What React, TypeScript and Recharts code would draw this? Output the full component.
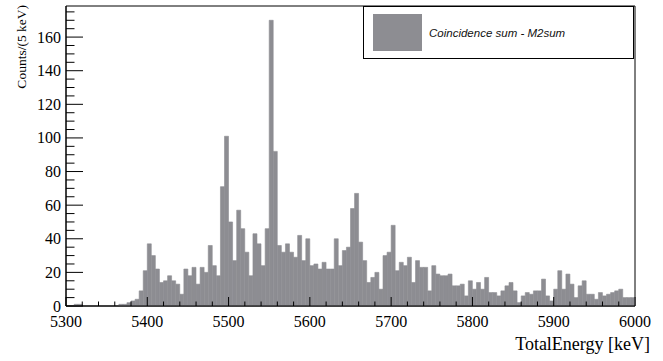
import { BarChart, Bar, XAxis, YAxis, ReferenceArea, Legend } from 'recharts';

// Coincidence sum spectrum, 5 keV bins starting at 5300 keV
const binStart = 5300;
const binWidth = 5;
const counts = [
  0, 0, 1, 1, 0, 0, 0, 0, 0, 0,
  0, 0, 0, 1, 1, 2, 3, 4, 9, 21,
  37, 30, 22, 14, 15, 18, 15, 13, 7, 22,
  18, 23, 13, 23, 20, 36, 24, 18, 71, 101,
  50, 27, 57, 46, 32, 18, 43, 37, 24, 46,
  170, 92, 36, 32, 37, 32, 29, 42, 27, 40,
  24, 25, 22, 26, 22, 22, 40, 24, 33, 35,
  58, 67, 38, 27, 14, 17, 20, 10, 30, 32,
  48, 21, 26, 24, 29, 14, 27, 23, 23, 9,
  24, 19, 18, 18, 19, 12, 12, 13, 6, 15,
  10, 14, 10, 17, 8, 8, 6, 9, 12, 14,
  9, 2, 6, 8, 7, 9, 9, 16, 6, 3,
  10, 21, 10, 19, 13, 5, 12, 15, 7, 7,
  4, 8, 6, 7, 8, 9, 10, 5, 5, 5,
];

const xRange = [5300, 6000];
const xMajorStep = 100;
const xMinorStep = 20;
const yMax = 178.5;
const yMajorStep = 20;
const yMinorStep = 5;

const seriesName = 'Coincidence sum - M2sum';
const xTitle = 'TotalEnergy [keV]';
const yTitle = 'Counts/(5 keV)';

const barColor = '#8d8d92';
const serif = "'Liberation Serif', serif";
const sans = "'Liberation Sans', Arial, sans-serif";

const data = counts.map((c, i) => ({
  bin: binStart + i * binWidth,
  e: binStart + i * binWidth + binWidth / 2,
  counts: c,
}));

const xTicks: number[] = [];
for (let v = xRange[0]; v <= xRange[1]; v += xMinorStep) xTicks.push(v);
const yTicks: number[] = [];
for (let v = 0; v <= yMax; v += yMinorStep) yTicks.push(v);

// ticks point into the frame, long ones carry the label
const XTick = ({ x, y, payload }: any) => {
  const v = payload.value;
  const major = v % xMajorStep === 0;
  return (
    <g>
      <line x1={x} x2={x} y1={y} y2={y - (major ? 9 : 4.5)} stroke="#000" />
      {major && (
        <text x={x} y={y + 21} textAnchor="middle" style={{ fontFamily: serif, fontSize: 16 }} fill="#000">
          {v}
        </text>
      )}
    </g>
  );
};

const YTick = ({ x, y, payload }: any) => {
  const v = payload.value;
  const major = v % yMajorStep === 0;
  return (
    <g>
      <line x1={x} x2={x + (major ? 17 : 8.5)} y1={y} y2={y} stroke="#000" />
      {major && (
        <text x={x - 5} y={y + 5.5} textAnchor="end" style={{ fontFamily: serif, fontSize: 16 }} fill="#000">
          {v}
        </text>
      )}
    </g>
  );
};

const LegendBox = () => (
  <div
    style={{
      width: 271,
      height: 53,
      boxSizing: 'border-box',
      border: '1px solid #000',
      background: '#fff',
      display: 'flex',
      alignItems: 'center',
    }}
  >
    <div style={{ width: 49, height: 37, background: barColor, marginLeft: 9 }} />
    <span
      style={{
        marginLeft: 7,
        fontFamily: sans,
        fontStyle: 'italic',
        fontSize: 11.5,
        color: '#111',
      }}
    >
      {seriesName}
    </span>
  </div>
);

const App = () => {
  return (
    <div style={{ position: 'absolute', left: 0, top: 0, width: 663, height: 361, background: '#fff' }}>
      <BarChart
        width={663}
        height={361}
        data={data}
        margin={{ top: 6, right: 28, left: 0, bottom: 25 }}
        barCategoryGap={0}
        barGap={0}
      >
        <XAxis xAxisId="cat" dataKey="bin" hide height={0} />
        <XAxis
          xAxisId="e"
          dataKey="e"
          type="number"
          domain={xRange}
          ticks={xTicks}
          interval={0}
          height={30}
          tickSize={0}
          tickMargin={0}
          tickLine={false}
          axisLine={{ stroke: '#000' }}
          tick={<XTick />}
          label={({ viewBox }: any) => (
            <text
              x={650}
              y={viewBox.y + 44}
              textAnchor="end"
              style={{ fontFamily: serif, fontSize: 18 }}
              fill="#000"
            >
              {xTitle}
            </text>
          )}
        />
        <YAxis
          type="number"
          domain={[0, yMax]}
          ticks={yTicks}
          interval={0}
          width={66}
          tickSize={0}
          tickMargin={0}
          tickLine={false}
          axisLine={{ stroke: '#000' }}
          tick={<YTick />}
          label={({ viewBox }: any) => (
            <text
              x={26}
              y={viewBox.y - 1}
              textAnchor="end"
              style={{ fontFamily: serif, fontSize: 13.5 }}
              fill="#000"
              transform={`rotate(-90 26 ${viewBox.y - 1})`}
            >
              {yTitle}
            </text>
          )}
        />
        <Bar
          xAxisId="cat"
          dataKey="counts"
          name={seriesName}
          fill={barColor}
          stroke={barColor}
          strokeWidth={0.6}
          isAnimationActive={false}
        />
        <ReferenceArea
          xAxisId="e"
          x1={xRange[0]}
          x2={xRange[1]}
          y1={0}
          y2={yMax}
          fill="none"
          stroke="#000"
          strokeWidth={1}
          ifOverflow="visible"
        />
        <Legend
          layout="vertical"
          align="center"
          verticalAlign="middle"
          content={<LegendBox />}
          wrapperStyle={{ position: 'absolute', top: 6, left: 363, width: 271, height: 53 }}
        />
      </BarChart>
    </div>
  );
};

export default App;
